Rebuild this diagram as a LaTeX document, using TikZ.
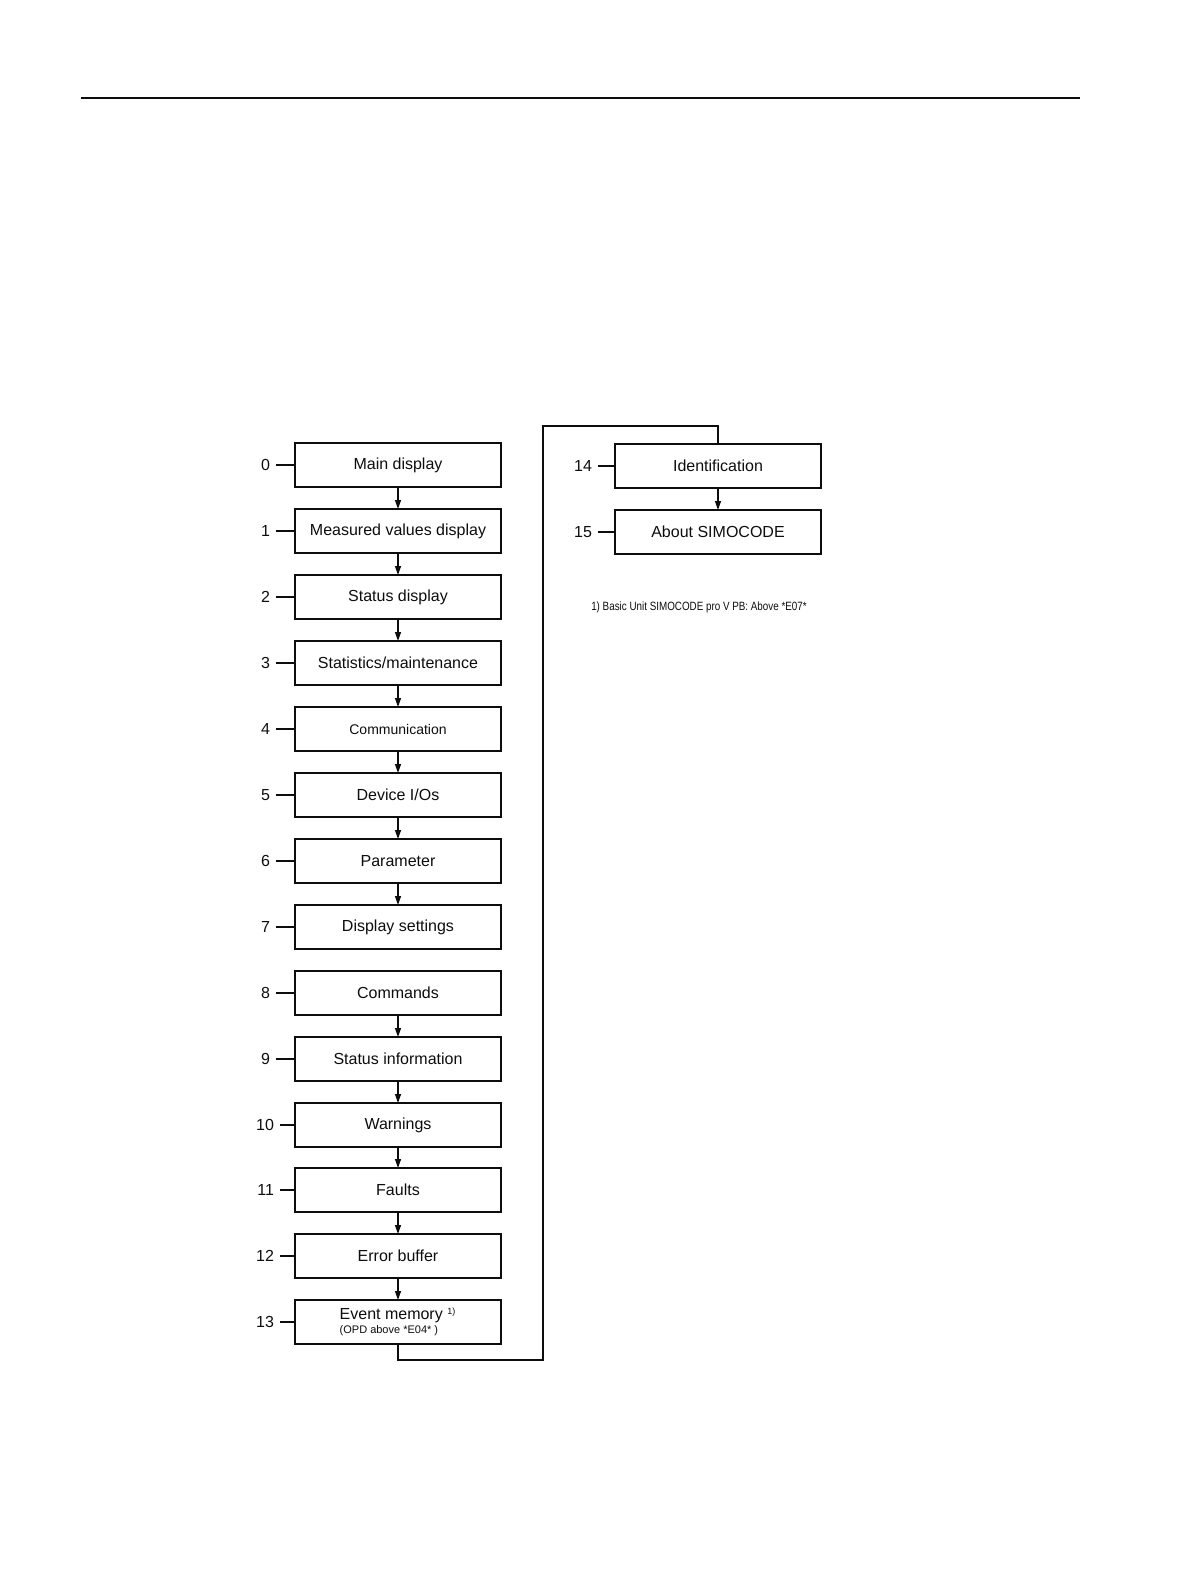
\documentclass[tikz,border=0pt]{standalone}
\usepackage{fontspec}
\setmainfont{Liberation Sans}
\usepackage{graphicx}
\usepackage{tikz}
\usetikzlibrary{arrows.meta,calc}
\definecolor{MenuInk}{gray}{0.05}
\tikzset{
    menu/diagram/.style={
        x=0.5pt, y=-0.5pt,
        font=\fontsize{8}{9}\selectfont,
        draw=MenuInk,
        text=MenuInk,
        line join=miter
    },
    menu/box/.style={
        draw=MenuInk, line width=1pt,
        minimum width=103pt, minimum height=22pt,
        inner sep=2pt, outer sep=0pt
    },
    menu/step/.style={
        draw=MenuInk, line width=0.65pt,
        -{Triangle[length=4.5pt, width=3pt]}
    },
    menu/link/.style={draw=MenuInk, line width=1pt},
    menu/num/.style={anchor=east, inner sep=3pt, outer sep=0pt,
        font=\fontsize{8}{9}\selectfont},
    menu/tick/.style={draw=MenuInk, line width=0.6pt},
    menu/note/.style={inner sep=1pt, font=\fontsize{6}{7}\selectfont},
    menu/rule/.style={draw=MenuInk, line width=0.75pt}
}

\begin{document}
\begin{tikzpicture}[menu/diagram]
    \useasboundingbox (0,0) rectangle (1191,1587);
    % page header rule
    \draw[menu/rule] (81,98) -- (1080,98);
    % left column of menu entries
    \node[menu/box] (b0) at (398,465) {Main display};
    \node[menu/box] (b1) at (398,531) {Measured values display};
    \node[menu/box] (b2) at (398,597) {Status display};
    \node[menu/box] (b3) at (398,663) {Statistics/maintenance};
    \node[menu/box, font=\fontsize{7}{8}\selectfont] (b4) at (398,729) {Communication};
    \node[menu/box] (b5) at (398,795) {Device I/Os};
    \node[menu/box] (b6) at (398,861) {Parameter};
    \node[menu/box] (b7) at (398,927) {Display settings};
    \node[menu/box] (b8) at (398,993) {Commands};
    \node[menu/box] (b9) at (398,1059) {Status information};
    \node[menu/box] (b10) at (398,1125) {Warnings};
    \node[menu/box] (b11) at (398,1190) {Faults};
    \node[menu/box] (b12) at (398,1256) {Error buffer};
    \node[menu/box, align=left] (b13) at (398,1322)
        {Event memory \textsuperscript{\fontsize{4.5}{5}\selectfont 1)}\\[-2pt]
         {\fontsize{5.5}{6}\selectfont (OPD above *E04* )}};
    % right column
    \node[menu/box] (b14) at (718,466) {Identification};
    \node[menu/box] (b15) at (718,532) {About SIMOCODE};
    % position numbers
    \node[menu/num] (n0) at (276,465) {0};
    \node[menu/num] (n1) at (276,531) {1};
    \node[menu/num] (n2) at (276,597) {2};
    \node[menu/num] (n3) at (276,663) {3};
    \node[menu/num] (n4) at (276,729) {4};
    \node[menu/num] (n5) at (276,795) {5};
    \node[menu/num] (n6) at (276,861) {6};
    \node[menu/num] (n7) at (276,927) {7};
    \node[menu/num] (n8) at (276,993) {8};
    \node[menu/num] (n9) at (276,1059) {9};
    \node[menu/num] (n10) at (280,1125) {10};
    \node[menu/num] (n11) at (280,1190) {11};
    \node[menu/num] (n12) at (280,1256) {12};
    \node[menu/num] (n13) at (280,1322) {13};
    \node[menu/num] (n14) at (598,466) {14};
    \node[menu/num] (n15) at (598,532) {15};
    \draw[menu/tick] (n0) -- (b0);
    \draw[menu/tick] (n1) -- (b1);
    \draw[menu/tick] (n2) -- (b2);
    \draw[menu/tick] (n3) -- (b3);
    \draw[menu/tick] (n4) -- (b4);
    \draw[menu/tick] (n5) -- (b5);
    \draw[menu/tick] (n6) -- (b6);
    \draw[menu/tick] (n7) -- (b7);
    \draw[menu/tick] (n8) -- (b8);
    \draw[menu/tick] (n9) -- (b9);
    \draw[menu/tick] (n10) -- (b10);
    \draw[menu/tick] (n11) -- (b11);
    \draw[menu/tick] (n12) -- (b12);
    \draw[menu/tick] (n13) -- (b13);
    \draw[menu/tick] (n14) -- (b14);
    \draw[menu/tick] (n15) -- (b15);
    % stepping arrows (none between 7 and 8)
    \draw[menu/step] (b0) -- (b1);
    \draw[menu/step] (b1) -- (b2);
    \draw[menu/step] (b2) -- (b3);
    \draw[menu/step] (b3) -- (b4);
    \draw[menu/step] (b4) -- (b5);
    \draw[menu/step] (b5) -- (b6);
    \draw[menu/step] (b6) -- (b7);
    \draw[menu/step] (b8) -- (b9);
    \draw[menu/step] (b9) -- (b10);
    \draw[menu/step] (b10) -- (b11);
    \draw[menu/step] (b11) -- (b12);
    \draw[menu/step] (b12) -- (b13);
    \draw[menu/step] (b14) -- (b15);
    % wrap from the last entry to the right column
    \coordinate (wraplow) at (543,1360);
    \coordinate (wraphigh) at (543,426);
    \draw[menu/link] (b13.south) |- (wraplow) -- (wraphigh) -| (b14.north);
    % footnote
    \node[menu/note] (note) at (699,607)
        {\scalebox{0.82}[1]{1) Basic Unit SIMOCODE pro V PB: Above *E07*}};
\end{tikzpicture}
\end{document}
